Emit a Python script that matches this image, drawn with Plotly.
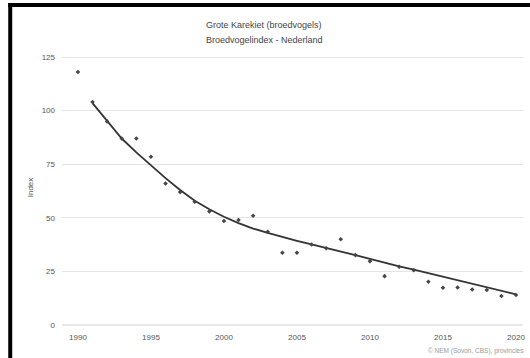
import plotly.graph_objects as go

# Broedvogelindex Grote Karekiet, Nederland
years = list(range(1990, 2021))
index_values = [118, 104, 95, 87, 87, 78.5, 66, 62, 57.5, 53, 48.5, 49, 51, 43.5,
                33.7, 33.7, 37.6, 35.8, 40, 32.6, 29.8, 22.8, 27.2, 25.6, 20.2,
                17.4, 17.5, 16.6, 16.3, 13.5, 14]

trend_years = list(range(1991, 2021))
trend_values = [103.5, 95, 87, 80.5, 74.5, 68.5, 63, 58, 54, 50.5, 47.5, 45, 43,
                41, 39.3, 37.6, 36, 34.3, 32.6, 30.8, 29, 27.4, 25.8, 24.2, 22.6,
                21, 19.4, 17.8, 16.2, 14.3]

x_ticks = [1990, 1995, 2000, 2005, 2010, 2015, 2020]
y_ticks = [0, 25, 50, 75, 100, 125]

W, H = 530, 358
L, R, T, B = 62, 5, 50, 33
pw, ph = W - L - R, H - T - B


def px(x):
    return (x - L) / pw


def py(y):
    return (H - B - y) / ph


fig = go.Figure()
fig.add_trace(go.Scatter(
    x=trend_years, y=trend_values, mode="lines",
    line=dict(color="#333333", width=1.8), hoverinfo="skip", showlegend=False))
fig.add_trace(go.Scatter(
    x=years, y=index_values, mode="markers",
    marker=dict(symbol="diamond", size=3.5, color="#444444"), showlegend=False))

fig.update_layout(
    width=W, height=H,
    margin=dict(l=L, r=R, t=T, b=B),
    paper_bgcolor="white", plot_bgcolor="white",
    font=dict(family="Liberation Sans, Arial, sans-serif", color="#555555", size=8),
    xaxis=dict(range=[1988.91, 2020.48], tickvals=x_ticks, showgrid=False,
               zeroline=False, showline=False, ticks="", tickfont=dict(size=8),
               ticklabelstandoff=6),
    yaxis=dict(range=[0, 128.3], tickvals=y_ticks, showgrid=True,
               gridcolor="#e4e4e4", gridwidth=1, zeroline=False, ticks="",
               tickfont=dict(size=8), ticklabelstandoff=6,
               title=dict(text="Index", font=dict(size=8), standoff=6)),
    shapes=[
        dict(type="line", xref="paper", yref="paper", x0=0, x1=1, y0=0, y1=0,
             line=dict(color="#d0d0d0", width=1)),
        dict(type="rect", xref="paper", yref="paper", x0=px(8), x1=px(W + 2),
             y0=py(7), y1=py(3), fillcolor="black", line=dict(width=0)),
        dict(type="rect", xref="paper", yref="paper", x0=px(8), x1=px(12),
             y0=py(H + 2), y1=py(3), fillcolor="black", line=dict(width=0)),
    ],
    annotations=[
        dict(text="Grote Karekiet (broedvogels)", xref="paper", yref="paper",
             x=px(265), y=py(18), showarrow=False, font=dict(size=9, color="#444444")),
        dict(text="Broedvogelindex - Nederland", xref="paper", yref="paper",
             x=px(265), y=py(33), showarrow=False, font=dict(size=9, color="#444444")),
        dict(text="© NEM (Sovon, CBS), provincies", xref="paper", yref="paper",
             x=px(528), y=py(357), xanchor="right", yanchor="bottom",
             showarrow=False, font=dict(size=6.5, color="#999999")),
    ],
)

fig.write_html("out.html")
